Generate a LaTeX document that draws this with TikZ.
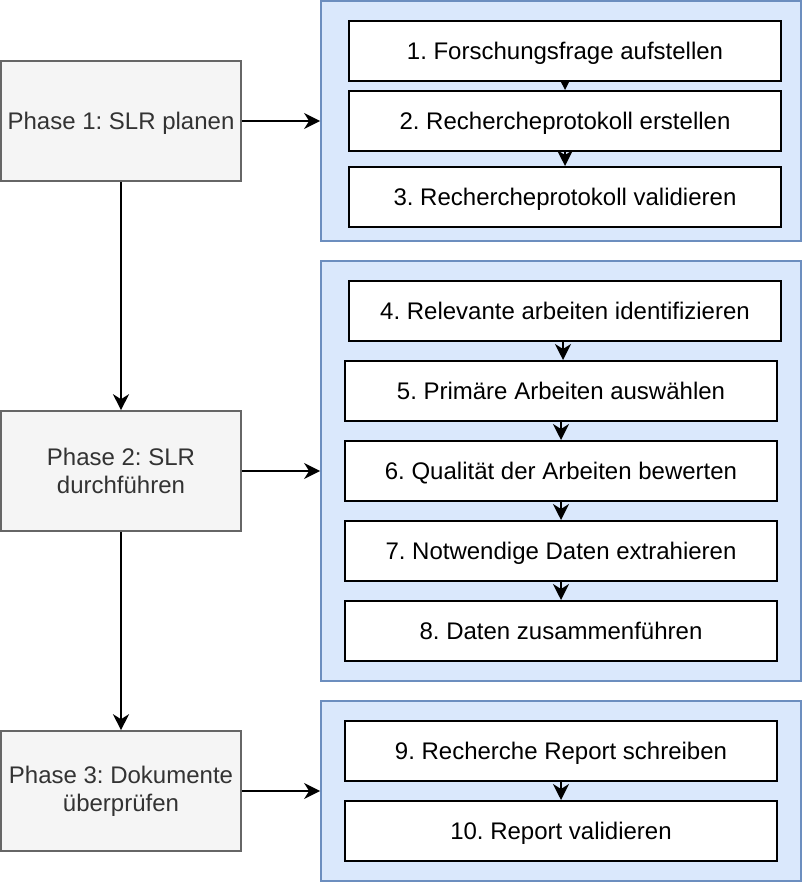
\documentclass[tikz,border=0pt]{standalone}
\usepackage{fontspec}
\setmainfont{Liberation Sans}
\usetikzlibrary{arrows.meta}
\definecolor{bfill}{HTML}{DAE8FC}
\definecolor{bdraw}{HTML}{6C8EBF}
\definecolor{gfill}{HTML}{F5F5F5}
\definecolor{gdraw}{HTML}{666666}
\definecolor{gtext}{HTML}{333333}
\pgfdeclarelayer{bg}
\pgfdeclarelayer{mid}
\pgfsetlayers{bg,mid,main}
\tikzset{
  phasebox/.style={draw=gdraw, fill=gfill, text=gtext, line width=1.6pt, minimum width=240pt, minimum height=120pt, inner sep=0pt, align=center, font=\fontsize{24}{28}\selectfont},
  groupbox/.style={draw=bdraw, fill=bfill, line width=1.8pt, inner sep=0pt, minimum width=480pt},
  stepbox/.style={draw=black, fill=white, line width=2pt, minimum width=432pt, minimum height=60pt, inner sep=0pt, text height=17pt, text depth=0pt, font=\fontsize{24}{28}\selectfont},
  arr/.style={line width=1.8pt, -{Stealth[length=16pt, width=16pt, inset=5pt]}},
}
\begin{document}
\frenchspacing
\begin{tikzpicture}[x=1pt, y=-1pt]
\useasboundingbox (0,0) rectangle (802,882);
\begin{pgfonlayer}{bg}
\node[groupbox, minimum height=240pt] (c1) at (561,121) {};
\node[groupbox, minimum height=420pt] (c2) at (561,471) {};
\node[groupbox, minimum height=180pt] (c3) at (561,791) {};
\end{pgfonlayer}

\node[phasebox, text height=17pt, text depth=0pt] (p1) at (121,121) {Phase 1: SLR planen};
\node[phasebox] (p2) at (121,471) {Phase 2: SLR\\durchführen};
\node[phasebox] (p3) at (121,791) {Phase 3: Dokumente\\überprüfen};

\node[stepbox] (b1) at (565,51) {1. Forschungsfrage aufstellen};
\node[stepbox] (b2) at (565,121) {2. Rechercheprotokoll erstellen};
\node[stepbox] (b3) at (565,197) {3. Rechercheprotokoll validieren};
\node[stepbox] (b4) at (565,311) {4. Relevante arbeiten identifizieren};
\node[stepbox] (b5) at (561,391) {5. Primäre Arbeiten auswählen};
\node[stepbox] (b6) at (561,471) {6. Qualität der Arbeiten bewerten};
\node[stepbox] (b7) at (561,551) {7. Notwendige Daten extrahieren};
\node[stepbox] (b8) at (561,631) {8. Daten zusammenführen};
\node[stepbox] (b9) at (561,751) {9. Recherche Report schreiben};
\node[stepbox] (b10) at (561,831) {10. Report validieren};

\begin{pgfonlayer}{mid}
\draw[arr] (b1.south) -- (b2.north);
\draw[arr] (b2.south) -- (b3.north);
\draw[arr] ([xshift=-2pt]b4.south) -- ([xshift=2pt]b5.north);
\draw[arr] (b5.south) -- (b6.north);
\draw[arr] (b6.south) -- (b7.north);
\draw[arr] (b7.south) -- (b8.north);
\draw[arr] (b9.south) -- (b10.north);
\end{pgfonlayer}

\draw[arr] (p1.east) -- (c1.west);
\draw[arr] (p2.east) -- (c2.west);
\draw[arr] (p3.east) -- (c3.west);
\draw[arr] (p1.south) -- (p2.north);
\draw[arr] (p2.south) -- (p3.north);
\end{tikzpicture}
\end{document}
